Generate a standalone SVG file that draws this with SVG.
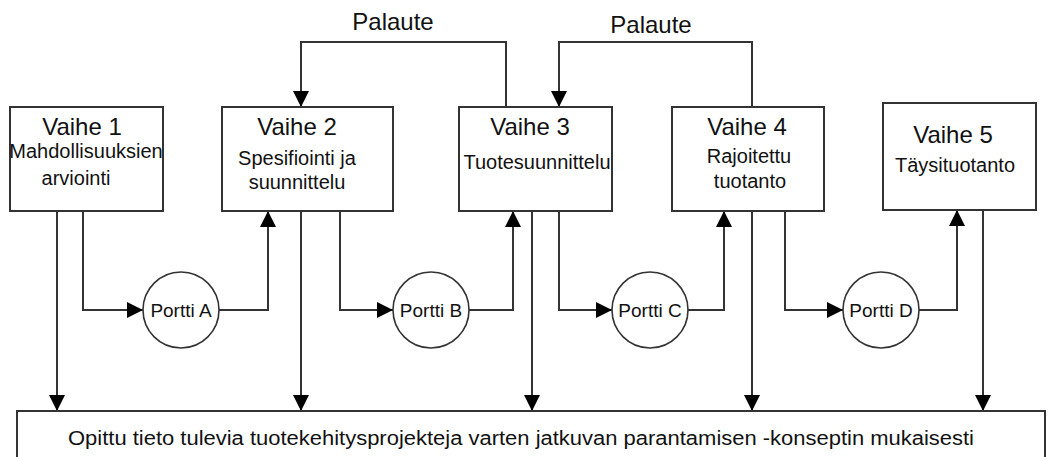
<svg xmlns="http://www.w3.org/2000/svg" width="1050" height="457" viewBox="0 0 1050 457">
<style>
.box{fill:#fff;stroke:#333;stroke-width:2}
.gate{fill:#fff;stroke:#333;stroke-width:1.6}
.ln{fill:none;stroke:#333;stroke-width:2}
.t{font-family:"Liberation Sans",Arial,sans-serif;fill:#111;text-anchor:middle}
.h{font-size:24px}
.s{font-size:20px}
.g{font-size:19px}
</style>
<defs>
<marker id="ah" markerUnits="userSpaceOnUse" markerWidth="16" markerHeight="16" refX="16" refY="8" orient="auto">
<path d="M0,0 L16,8 L0,16 z" fill="#000"/>
</marker>
</defs>
<rect width="1050" height="457" fill="#fff"/>
<g id="connectors">
<path class="ln" d="M506,107 V42 H301 V107" marker-end="url(#ah)"/>
<path class="ln" d="M752,107 V42 H559 V107" marker-end="url(#ah)"/>
<path class="ln" d="M83,211 V310 H143" marker-end="url(#ah)"/>
<path class="ln" d="M219,310 H268 V211" marker-end="url(#ah)"/>
<path class="ln" d="M340,211 V310 H393" marker-end="url(#ah)"/>
<path class="ln" d="M469,310 H513 V211" marker-end="url(#ah)"/>
<path class="ln" d="M559,211 V310 H612" marker-end="url(#ah)"/>
<path class="ln" d="M688,310 H724 V211" marker-end="url(#ah)"/>
<path class="ln" d="M785,211 V310 H843" marker-end="url(#ah)"/>
<path class="ln" d="M919,310 H957 V210" marker-end="url(#ah)"/>
<path class="ln" d="M57,211 V411" marker-end="url(#ah)"/>
<path class="ln" d="M301,211 V411" marker-end="url(#ah)"/>
<path class="ln" d="M532,211 V411" marker-end="url(#ah)"/>
<path class="ln" d="M752,211 V411" marker-end="url(#ah)"/>
<path class="ln" d="M983,210 V411" marker-end="url(#ah)"/>
<text class="t h" x="393" y="30">Palaute</text>
<text class="t h" x="651" y="33">Palaute</text>
</g>
<g id="vaihe1">
<rect class="box" x="10" y="107" width="153" height="104"/>
<text class="t h" x="82" y="135">Vaihe 1</text>
<text class="t s" x="86" y="158" font-size="19.5">Mahdollisuuksien</text>
<text class="t s" x="76" y="185">arviointi</text>
</g>
<g id="vaihe2">
<rect class="box" x="222" y="107" width="171" height="104"/>
<text class="t h" x="297" y="135">Vaihe 2</text>
<text class="t s" x="297" y="165">Spesifiointi ja</text>
<text class="t s" x="297" y="189">suunnittelu</text>
</g>
<g id="vaihe3">
<rect class="box" x="459" y="107" width="153" height="104"/>
<text class="t h" x="530" y="135">Vaihe 3</text>
<text class="t s" x="537" y="169">Tuotesuunnittelu</text>
</g>
<g id="vaihe4">
<rect class="box" x="672" y="107" width="152" height="104"/>
<text class="t h" x="747" y="135">Vaihe 4</text>
<text class="t s" x="749" y="163">Rajoitettu</text>
<text class="t s" x="750" y="188">tuotanto</text>
</g>
<g id="vaihe5">
<rect class="box" x="883" y="103" width="153" height="107"/>
<text class="t h" x="953" y="143">Vaihe 5</text>
<text class="t s" x="955" y="172">Täysituotanto</text>
</g>
<g id="porttiA">
<circle class="gate" cx="181" cy="310" r="38"/>
<text class="t g" x="181" y="317">Portti A</text>
</g>
<g id="porttiB">
<circle class="gate" cx="431" cy="310" r="38"/>
<text class="t g" x="431" y="317">Portti B</text>
</g>
<g id="porttiC">
<circle class="gate" cx="650" cy="310" r="38"/>
<text class="t g" x="650" y="317">Portti C</text>
</g>
<g id="porttiD">
<circle class="gate" cx="881" cy="310" r="38"/>
<text class="t g" x="881" y="317">Portti D</text>
</g>
<g id="opittu">
<rect class="box" x="17" y="411" width="1028" height="60"/>
<text class="t s" x="521" y="445" textLength="906" lengthAdjust="spacingAndGlyphs">Opittu tieto tulevia tuotekehitysprojekteja varten jatkuvan parantamisen -konseptin mukaisesti</text>
</g>
</svg>
